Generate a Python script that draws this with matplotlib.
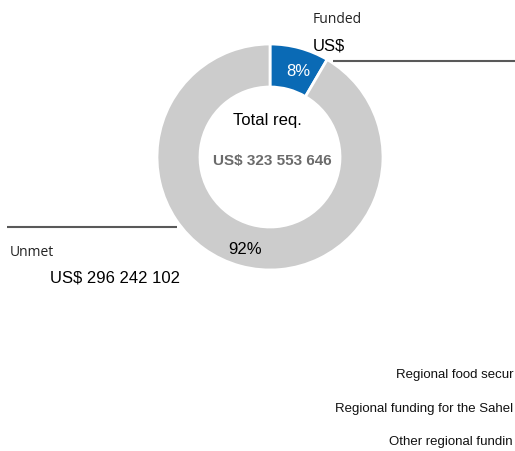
import matplotlib.pyplot as plt

# Funding data (US$)
total_req = 323553646
unmet = 296242102
funded = total_req - unmet
labels = ["Funded", "Unmet"]
colors = ["#0a6ab5", "#cccccc"]
# bottom labels as visible in the original (cut off at the right edge there)
bottom_labels = ["Regional food secur", "Regional funding for the Sahel", "Other regional fundin"]

W, H = 515, 452
def Y(y):
    # pixel row -> data y (origin bottom)
    return H - y

fig = plt.figure(figsize=(W / 100, H / 100), dpi=100)
ax = fig.add_axes([0, 0, 1, 1])

ax.pie([funded, unmet], colors=colors, radius=113, center=(270, Y(158)),
       startangle=90, counterclock=False,
       wedgeprops=dict(width=43, edgecolor="white", linewidth=2))
ax.set_xlim(0, W)
ax.set_ylim(0, H)
ax.set_aspect("equal")
ax.axis("off")

pct_f = round(funded / total_req * 100)
pct_u = round(unmet / total_req * 100)

arial = "Liberation Sans"
opensans = "Open Sans"

# funded label
ax.text(313, Y(23), labels[0], fontsize=10, family=opensans, color="#222222")
ax.text(313, Y(51), "US$", fontsize=12, family=arial, color="black")
ax.plot([333, W], [Y(62), Y(62)], color="#595959", lw=1.5, solid_capstyle="butt")
ax.text(298, Y(76), f"{pct_f}%", fontsize=12, family=arial, color="white", ha="center")

# centre
ax.text(267, Y(125), "Total req.", fontsize=12, family=arial, color="black", ha="center")
ax.text(272, Y(165), "US$ " + f"{total_req:,}".replace(",", " "), fontsize=11,
        family=arial, weight="bold", color="#6b6b6b", ha="center")

# unmet label
ax.plot([7, 177], [Y(228), Y(228)], color="#595959", lw=1.5, solid_capstyle="butt")
ax.text(10, Y(256), labels[1], fontsize=10, family=opensans, color="#222222")
ax.text(50, Y(283), "US$ " + f"{unmet:,}".replace(",", " "), fontsize=12,
        family=arial, color="black")
ax.text(245, Y(254), f"{pct_u}%", fontsize=12, family=arial, color="black", ha="center")

# bottom labels, right-aligned against the figure edge
for y, t in zip([378, 412, 445], bottom_labels):
    ax.text(513, Y(y), t, fontsize=9.5, family=arial, color="#111111", ha="right")

fig.savefig("out.png", dpi=100)
